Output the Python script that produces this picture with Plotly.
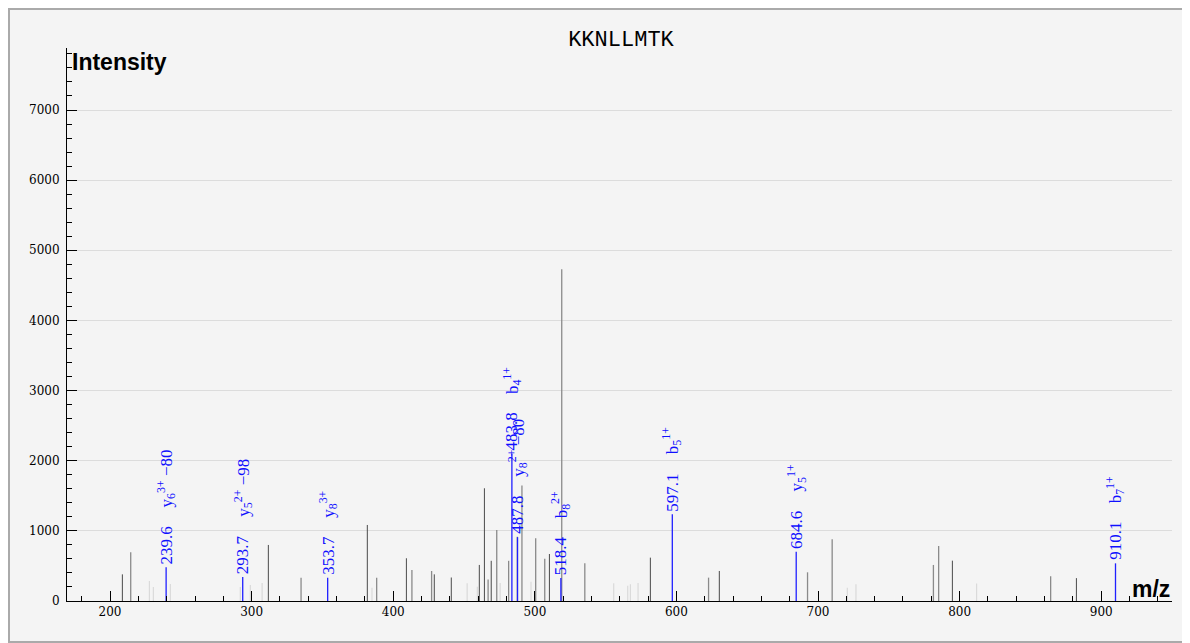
import plotly.graph_objects as go

# ---- data ----
title_text = "KKNLLMTK"

dark_mz = [208.7, 311.8, 381.7, 409.3, 429.0, 441.0, 460.8, 464.4, 469.2, 510.3, 581.6, 630.3, 794.9, 882.5]
dark_int = [380, 799, 1084, 609, 380, 335, 514, 1607, 573, 670, 618, 428, 575, 326]

mid_mz = [214.6, 334.9, 388.3, 413.2, 427.1, 467.0, 473.1, 481.5, 487.6, 490.9, 500.6, 507.0,
          519.0, 535.3, 622.7, 692.6, 710.0, 781.5, 785.2, 864.3]
mid_int = [694, 333, 333, 442, 428, 305, 1013, 573, 915, 1645, 894, 604,
           4730, 537, 333, 409, 880, 514, 785, 352]

light_mz = [227.8, 230.6, 242.6, 292.0, 299.1, 307.4, 385.0, 452.2, 459.4, 475.5, 497.3,
            555.7, 565.6, 567.5, 572.9, 720.7, 726.8, 812.0]
light_int = [285, 200, 243, 200, 228, 257, 190, 252, 204, 256, 273,
             252, 219, 238, 257, 190, 238, 248]

ann_mz = [239.6, 293.7, 353.7, 483.8, 487.8, 518.4, 597.1, 684.6, 910.1]
ann_int = [480, 342, 333, 2100, 910, 328, 1235, 703, 537]
ann_value = ["239.6", "293.7", "353.7", "483.8", "487.8", "518.4", "597.1", "684.6", "910.1"]
ann_ion = ["y<sub>6</sub><sup>3+</sup> \u221280", "y<sub>5</sub><sup>2+</sup> \u221298",
           "y<sub>8</sub><sup>3+</sup>", "b<sub>4</sub><sup>1+</sup>",
           "y<sub>8</sub><sup>2+</sup> \u221280", "b<sub>8</sub><sup>2+</sup>",
           "b<sub>5</sub><sup>1+</sup>", "y<sub>5</sub><sup>1+</sup>", "b<sub>7</sub><sup>1+</sup>"]

x_range = [169.6, 950]
y_range = [0, 7884]


def sticks(mz, inten):
    xs, ys = [], []
    for m, i in zip(mz, inten):
        xs += [m, m, None]
        ys += [0, i, None]
    return xs, ys


fig = go.Figure()
for mz, inten, color, w in [(light_mz, light_int, "#dadada", 1.2),
                            (mid_mz, mid_int, "#8a8a8a", 1.3),
                            (dark_mz, dark_int, "#4a4a4a", 1.0),
                            (ann_mz, ann_int, "#2020ff", 1.3)]:
    xs, ys = sticks(mz, inten)
    fig.add_trace(go.Scatter(x=xs, y=ys, mode="lines", line=dict(color=color, width=w),
                             hoverinfo="skip", showlegend=False))

annotations = []
lab_font = dict(family="Liberation Serif", size=17, color="#1010ff")
for m, i, v, ion in zip(ann_mz, ann_int, ann_value, ann_ion):
    annotations.append(dict(x=m, y=i, xref="x", yref="y", text=v, showarrow=False,
                            textangle=-90, xanchor="center", yanchor="bottom",
                            yshift=1, font=lab_font))
    annotations.append(dict(x=m, y=i, xref="x", yref="y", text=ion, showarrow=False,
                            textangle=-90, xanchor="center", yanchor="bottom",
                            yshift=58, font=lab_font))

annotations.append(dict(x=0.003, y=0.975, xref="paper", yref="paper", text="<b>Intensity</b>",
                        showarrow=False, xanchor="left", yanchor="middle",
                        font=dict(family="Liberation Sans", size=23, color="black")))
annotations.append(dict(x=1.0, y=0.0, xref="paper", yref="paper", text="<b>m/z</b>",
                        showarrow=False, xanchor="right", yanchor="bottom", yshift=-3,
                        font=dict(family="Liberation Sans", size=23, color="black")))

tick_font = dict(family="DejaVu Serif", size=12, color="black")

# the page body adds an 8px offset, so the figure is 8px smaller than the window
fig.update_layout(
    width=1182, height=635,
    margin=dict(l=59, r=18, t=40, b=42),
    paper_bgcolor="#f4f4f4", plot_bgcolor="#f4f4f4",
    title=dict(text=title_text, x=0.5186, xanchor="center", y=0.952, yanchor="middle",
               font=dict(family="Liberation Mono", size=22, color="black")),
    annotations=annotations,
    xaxis=dict(range=x_range, showgrid=False, zeroline=False, showline=True,
               linecolor="black", linewidth=1, ticks="inside", ticklen=10, tickcolor="black",
               dtick=100, tick0=0, tickfont=tick_font,
               minor=dict(dtick=20, tick0=0, ticks="inside", ticklen=5, tickcolor="black",
                          showgrid=False)),
    yaxis=dict(range=y_range, showgrid=True, gridcolor="#dcdcdc", gridwidth=1, zeroline=False,
               showline=True, linecolor="black", linewidth=1, ticks="inside", ticklen=10,
               tickcolor="black", dtick=1000, tick0=0, tickfont=tick_font, ticklabelstandoff=4,
               minor=dict(dtick=200, tick0=0, ticks="inside", ticklen=5, tickcolor="black",
                          showgrid=False)),
    shapes=[dict(type="rect", xref="paper", yref="paper",
                 x0=-58/1105, x1=1 + 16/1105, y0=-41/553, y1=1 + 39/553,
                 line=dict(color="#aaaaaa", width=2), fillcolor="rgba(0,0,0,0)", layer="below")],
)

fig.write_html("out.html")
